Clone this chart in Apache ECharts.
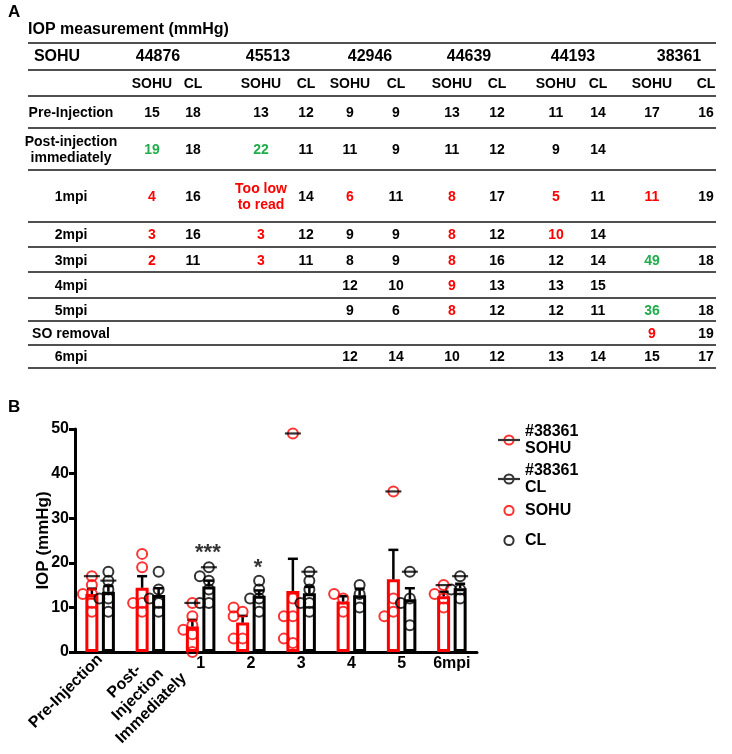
<!DOCTYPE html>
<html><head><meta charset="utf-8">
<script src="https://cdn.jsdelivr.net/npm/echarts@6/dist/echarts.min.js"></script>
<style>html,body{margin:0;padding:0;background:#fff}#c{width:732px;height:754px}</style>
</head><body><div id="c"></div>
<script>
// ===== Panel A: table data =====
const tableTitle = 'IOP measurement (mmHg)';
const tableCorner = 'SOHU';
const tableMice = ['44876','45513','42946','44639','44193','38361'];
const tableSubCols = ['SOHU','CL','SOHU','CL','SOHU','CL','SOHU','CL','SOHU','CL','SOHU','CL'];
const tableRowLabels = ['Pre-Injection','Post-injection\nimmediately','1mpi','2mpi','3mpi','4mpi','5mpi','SO removal','6mpi'];
const tableValues = [
  ['15','18','13','12','9','9','13','12','11','14','17','16'],
  ['19','18','22','11','11','9','11','12','9','14','',''],
  ['4','16','Too low\nto read','14','6','11','8','17','5','11','11','19'],
  ['3','16','3','12','9','9','8','12','10','14','',''],
  ['2','11','3','11','8','9','8','16','12','14','49','18'],
  ['','','','','12','10','9','13','13','15','',''],
  ['','','','','9','6','8','12','12','11','36','18'],
  ['','','','','','','','','','','9','19'],
  ['','','','','12','14','10','12','13','14','15','17']
];
// L = low reading, H = high reading
const tableFlags = [
  '............',
  'H.H.........',
  'L.L.L.L.L.L.',
  'L.L...L.L...',
  'L.L...L...H.',
  '......L.....',
  '......L...H.',
  '..........L.',
  '............'
];

// ===== Panel B: chart data =====
const categories = ['Pre-Injection','Post-\nInjection\nImmediately','1','2','3','4','5','6mpi'];
const sohuPoints = [[15,13,9,13,11],[19,22,11,11,9],[4,0,6,8,5],[3,3,9,8,10],[2,3,8,8,12],[12,9,13],[9,8,12],[12,10,13]];
const clPoints   = [[18,12,9,12,14],[18,11,9,12,14],[16,14,11,17,11],[16,12,9,12,14],[11,11,9,16,14],[10,13,15],[6,12,11],[14,12,14]];
const m38361Sohu = [17,null,11,null,49,null,36,15];
const m38361Cl   = [16,null,19,null,18,null,18,17];
const sohuMean = [13.0,14.4,5.7,6.6,13.7,11.3,16.3,12.5];
const sohuSem  = [1.2,2.6,1.5,1.5,7.2,1.2,6.6,1.0];
const clMean   = [13.5,12.8,14.7,12.6,13.2,12.7,11.8,14.3];
const clSem    = [1.3,1.5,1.3,1.2,1.4,1.5,2.5,1.0];
const sigMarks = ['','','***','*','','','',''];
const sigLevel = [null,null,22.1,18.9,null,null,null,null];
const yTicks = [0,10,20,30,40,50];

// ===== styling / layout =====
const FONT = "'Liberation Sans', Arial, sans-serif";
const RED = '#ff0000', GREEN = '#1fae4b', BLACK = '#000';
const colX = [152,193,261,306,350,396,452,497,556,598,652,706];
const miceX = [158,268,370,469,573,679];
const rowY = [113,150,197,235,261,286,311,334,357];
const lineY = [43,70,96,128,170,222,247,272,298,321,345,368];
const labelX = 71;

const graphics = [];
function txt(t, x, y, font, fill, lh) {
  graphics.push({type:'text', silent:true, style:{text:t, x:x, y:y, font:font, fill:fill||BLACK,
    align:'center', verticalAlign:'middle', lineHeight:lh||16}});
}
graphics.push({type:'text', silent:true, style:{text:'A', x:8, y:12, font:'bold 17px '+FONT, fill:BLACK, verticalAlign:'middle'}});
graphics.push({type:'text', silent:true, style:{text:'B', x:8, y:407, font:'bold 17px '+FONT, fill:BLACK, verticalAlign:'middle'}});
graphics.push({type:'text', silent:true, style:{text:tableTitle, x:28, y:30, font:'bold 16px '+FONT, fill:BLACK, verticalAlign:'middle'}});
lineY.forEach(y => graphics.push({type:'line', silent:true, shape:{x1:28,y1:y,x2:716,y2:y}, style:{stroke:'#505050', lineWidth:2}}));
txt(tableCorner, 57, 57, 'bold 16px '+FONT);
tableMice.forEach((m,i) => txt(m, miceX[i], 57, 'bold 16px '+FONT));
tableSubCols.forEach((s,i) => txt(s, colX[i], 84, 'bold 14px '+FONT));
tableRowLabels.forEach((r,i) => txt(r, labelX, rowY[i], 'bold 14px '+FONT, BLACK, 16));
tableValues.forEach((row,ri) => row.forEach((v,ci) => {
  if (!v) return;
  const f = tableFlags[ri][ci];
  txt(v, colX[ci], rowY[ri], 'bold 14px '+FONT, f==='L'?RED:(f==='H'?GREEN:BLACK), 16);
}));

// beeswarm-like horizontal spread of overlapping points
const PX_PER_UNIT = 223/50;
function swarm(vals) {
  const placed = [];
  return vals.map(v => {
    const cands = [0,-4.5,4.5,-9,9];
    let off = 0;
    for (const c of cands) {
      if (placed.every(p => Math.hypot(c-p[0], (v-p[1])*PX_PER_UNIT) >= 7)) { off = c; break; }
    }
    placed.push([off, v]);
    return off;
  });
}
const DX = 8.25;
function pointData(groups, dx) {
  const out = [];
  groups.forEach((vals, gi) => {
    const offs = swarm(vals);
    vals.forEach((v, k) => out.push({value:[gi, v], symbolOffset:[dx + offs[k], 0]}));
  });
  return out;
}
function markerData(arr) { return arr.map((v,i) => v==null ? null : [i, v]).filter(d => d); }

function svgIcon(circ, line) {
  let s = "<svg xmlns='http://www.w3.org/2000/svg' width='22' height='12'>" +
    "<circle cx='11' cy='6' r='4.6' fill='none' stroke='" + circ + "' stroke-width='2'/>";
  if (line) s += "<line x1='0' y1='6' x2='22' y2='6' stroke='black' stroke-width='2.2'/>";
  s += "</svg>";
  return 'image://data:image/svg+xml;charset=utf-8,' + encodeURIComponent(s);
}

function errSeries(means, sems, dx) {
  return {type:'custom', z:4, silent:true,
    data: means.map((m,i) => [i, m, sems[i]]),
    encode:{x:0, y:1},
    renderItem: (params, api) => {
      const base = api.coord([api.value(0), api.value(1)]);
      const top = api.coord([api.value(0), api.value(1) + api.value(2)]);
      const x = base[0] + dx;
      return {type:'group', children:[
        {type:'line', shape:{x1:x, y1:base[1], x2:x, y2:top[1]}, style:{stroke:BLACK, lineWidth:2.5}},
        {type:'line', shape:{x1:x-5, y1:top[1], x2:x+5, y2:top[1]}, style:{stroke:BLACK, lineWidth:2.5}}
      ]};
    }};
}

const hollow = (c) => ({color:'rgba(255,255,255,0)', borderColor:c, borderWidth:2});
const legendText = {fontSize:16, fontWeight:'bold', color:BLACK, fontFamily:FONT, lineHeight:17};
const labelFont = {fontSize:16, fontWeight:'bold', color:BLACK, fontFamily:FONT};

const option = {
  animation:false,
  backgroundColor:'#fff',
  textStyle:{fontFamily:FONT},
  graphic: graphics,
  grid:{left:75, top:429, width:402, height:223, outerBoundsMode:'none', containLabel:false},
  legend:[
    {orient:'vertical', left:493, top:418, itemWidth:22, itemHeight:12, itemGap:5, selectedMode:false,
     textStyle:legendText, formatter: n => n.replace(' ', '\n'),
     data:[{name:'#38361 SOHU', icon:svgIcon('red', true)}, {name:'#38361 CL', icon:svgIcon('black', true)}]},
    {orient:'vertical', left:493, top:497, itemWidth:22, itemHeight:12, itemGap:13, selectedMode:false,
     textStyle:legendText,
     data:[{name:'SOHU', icon:svgIcon('red', false)}, {name:'CL', icon:svgIcon('black', false)}]}
  ],
  xAxis:[
    {type:'category', data:categories, gridIndex:0, position:'bottom',
     axisLine:{lineStyle:{color:BLACK, width:3}}, axisTick:{show:false},
     axisLabel:Object.assign({interval:0, margin:4, formatter:(v, i) => i < 2 ? '' : v}, labelFont)},
    {type:'category', data:categories, gridIndex:0, position:'bottom',
     axisLine:{show:false}, axisTick:{show:false},
     axisLabel:Object.assign({interval:0, margin:5, rotate:45, formatter:(v, i) => i === 0 ? v : ''}, labelFont)},
    {type:'category', data:categories, gridIndex:0, position:'bottom',
     axisLine:{show:false}, axisTick:{show:false},
     axisLabel:Object.assign({interval:0, margin:-10, rotate:45, verticalAlign:'top', lineHeight:19,
       formatter:(v, i) => i === 1 ? v.split('\n').map(s => '{c|' + s + '}').join('\n') : '',
       rich:{c:Object.assign({align:'center', lineHeight:19}, labelFont)}}, labelFont)}
  ],
  yAxis:{type:'value', min:0, max:50, interval:10,
    name:'IOP (mmHg)', nameLocation:'middle', nameGap:23, nameMoveOverlap:false,
    nameTextStyle:{fontSize:17, fontWeight:'bold', color:BLACK, fontFamily:FONT},
    axisLine:{show:true, lineStyle:{color:BLACK, width:3}},
    axisTick:{show:true, length:6, lineStyle:{color:BLACK, width:3}},
    axisLabel:Object.assign({margin:6, formatter: v => yTicks.includes(v) ? String(v) : ''}, labelFont),
    splitLine:{show:false}},
  series:[
    {type:'bar', name:'SOHU mean', data:sohuMean, barWidth:13, barGap:'27%', z:2, silent:true,
     itemStyle:{color:'#fff', borderColor:RED, borderWidth:3}},
    {type:'bar', name:'CL mean', data:clMean, barWidth:13, barGap:'27%', z:2, silent:true,
     itemStyle:{color:'#fff', borderColor:BLACK, borderWidth:3}},
    errSeries(sohuMean, sohuSem, -DX),
    errSeries(clMean, clSem, DX),
    {type:'scatter', name:'SOHU', data:pointData(sohuPoints, -DX), symbol:'circle', symbolSize:10, z:5, silent:true,
     itemStyle:hollow(RED)},
    {type:'scatter', name:'CL', data:pointData(clPoints, DX), symbol:'circle', symbolSize:10, z:5, silent:true,
     itemStyle:hollow(BLACK)},
    {type:'scatter', name:'#38361 SOHU', data:markerData(m38361Sohu), symbol:'circle', symbolSize:10, symbolOffset:[-DX,0], z:6, silent:true,
     itemStyle:hollow(RED)},
    {type:'scatter', name:'#38361 SOHU', data:markerData(m38361Sohu), symbol:'rect', symbolSize:[16,2.2], symbolOffset:[-DX,0], z:7, silent:true,
     itemStyle:{color:BLACK}},
    {type:'scatter', name:'#38361 CL', data:markerData(m38361Cl), symbol:'circle', symbolSize:10, symbolOffset:[DX,0], z:6, silent:true,
     itemStyle:hollow(BLACK)},
    {type:'scatter', name:'#38361 CL', data:markerData(m38361Cl), symbol:'rect', symbolSize:[16,2.2], symbolOffset:[DX,0], z:7, silent:true,
     itemStyle:{color:BLACK}},
    {type:'scatter', name:'sig', data:sigLevel.map((v,i) => v==null ? null : [i, v]).filter(d=>d),
     symbolSize:0, symbolOffset:[DX-1,0], z:8, silent:true,
     label:{show:true, position:'inside', fontSize:22, fontWeight:'bold', color:BLACK, fontFamily:FONT,
       formatter: p => sigMarks[p.value[0]]}}
  ]
};
const chart = echarts.init(document.getElementById('c'), null, {renderer:'canvas'});
chart.setOption(option);
</script></body></html>
